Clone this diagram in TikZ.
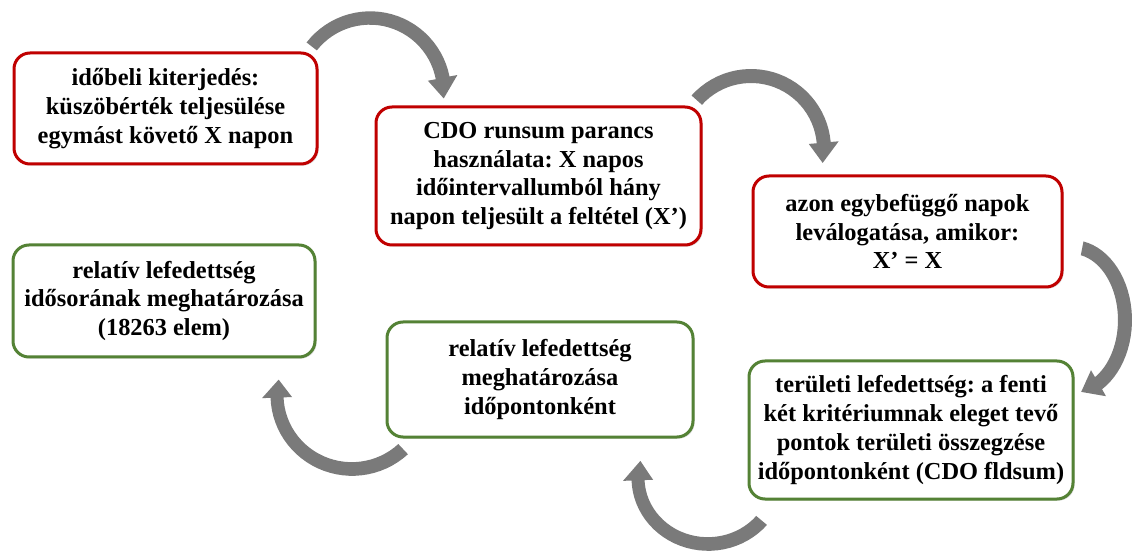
\documentclass[tikz,border=0pt]{standalone}
\usepackage{fontspec}
\setmainfont{Liberation Serif}
\frenchspacing
\usetikzlibrary{shadows}
\definecolor{boxred}{RGB}{192,0,0}
\definecolor{boxgreen}{RGB}{84,130,53}
\definecolor{arrowgray}{RGB}{122,122,122}
\tikzset{
  lepes/.style={draw, line width=1.5pt, rounded corners=8pt, fill=white, align=center,
    font=\bfseries\fontsize{12.2}{14.4}\selectfont, inner sep=2pt,
    drop shadow={shadow xshift=0.8pt, shadow yshift=-0.8pt, opacity=0.3}},
  piros/.style={lepes, draw=boxred},
  zold/.style={lepes, draw=boxgreen}
}
% ives nyil: kozeppont, rx, ry, farok szog, fej alap szog, hegy szog, farok szel., szar szel., fej fel-szel.
\newcommand{\ivnyil}[9]{%
\fill[arrowgray, shift={#1}] plot[domain=0:1, samples=30, variable=\s] ({(#2+(#7+(#8-#7)*\s)/2)*cos(#4+(#5-#4)*\s)}, {(#3+(#7+(#8-#7)*\s)/2)*sin(#4+(#5-#4)*\s)})
  -- ({(#2+#9)*cos(#5)},{(#3+#9)*sin(#5)}) -- ({#2*cos(#6)},{#3*sin(#6)}) -- ({(#2-#9)*cos(#5)},{(#3-#9)*sin(#5)})
  -- plot[domain=0:1, samples=30, variable=\s] ({(#2-(#8+(#7-#8)*\s)/2)*cos(#5+(#4-#5)*\s)}, {(#3-(#8+(#7-#8)*\s)/2)*sin(#5+(#4-#5)*\s)}) -- cycle;}
\begin{document}
\begin{tikzpicture}[x=0.5pt,y=-0.5pt]
\useasboundingbox (0,0) rectangle (1132,551);
% nyilak kozeppontjai
\coordinate (k1) at (370,92);
\coordinate (k2) at (751,149);
\coordinate (k3) at (1072,320);
\coordinate (k4) at (708,478);
\coordinate (k5) at (352,395);
\ivnyil{(k1)}{74}{74}{-142}{-11}{5}{13}{14}{15}
\ivnyil{(k2)}{73}{73}{-138}{-5}{11}{14}{14}{15}
\ivnyil{(k3)}{53}{73}{-79}{60}{80}{14}{14}{15}
\ivnyil{(k4)}{70}{66}{40}{178}{195}{14}{13}{15}
\ivnyil{(k5)}{75}{74}{47}{178}{192}{14}{13}{15}
% dobozok
\node[piros, minimum width=151.5pt, minimum height=55.5pt] (kiterj) at (165.5,108.5) {időbeli kiterjedés:\\küszöbérték teljesülése\\egymást követő X napon};
\node[piros, minimum width=162.5pt, minimum height=69pt] (runsum) at (538.5,176) {CDO runsum parancs\\használata: X napos\\időintervallumból hány\\napon teljesült a feltétel (X’)};
\node[piros, minimum width=154.5pt, minimum height=55.5pt] (levalog) at (907.5,231.5) {azon egybefüggő napok\\leválogatása, amikor:\\X’ = X};
\node[zold, minimum width=162pt, minimum height=69pt] (terulet) at (911,430) {területi lefedettség: a fenti\\két kritériumnak eleget tevő\\pontok területi összegzése\\időpontonként (CDO fldsum)};
\node[zold, minimum width=153pt, minimum height=57.5pt] (relativ) at (540,379.5) {relatív lefedettség\\meghatározása\\időpontonként};
\node[zold, minimum width=151pt, minimum height=56pt] (idosor) at (164,301) {relatív lefedettség\\idősorának meghatározása\\(18263 elem)};
\end{tikzpicture}
\end{document}
